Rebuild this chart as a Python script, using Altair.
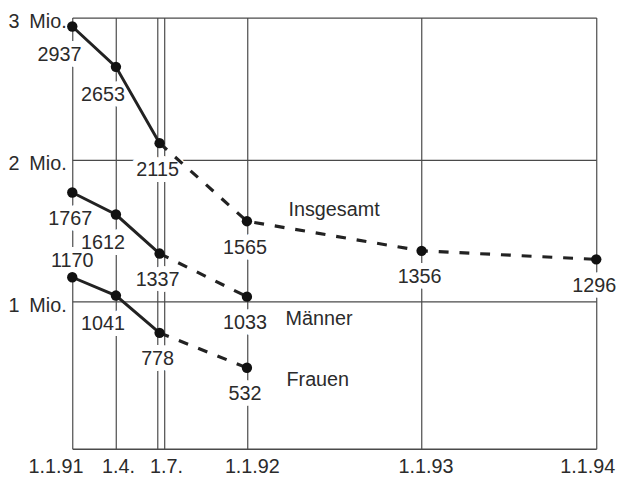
import altair as alt
import pandas as pd

# ---- data ----
months = [0, 3, 6, 12, 24, 36]              # months since 1.1.91
insgesamt = [2937, 2653, 2115, 1565, 1356, 1296]
maenner = [1767, 1612, 1337, 1033]
frauen = [1170, 1041, 778, 532]
series_names = ["Insgesamt", "Männer", "Frauen"]

# label placement category per point (below / below-left / above)
ins_side = ["bl", "bl", "b", "b", "b", "b"]
maen_side = ["b", "bl", "b", "b"]
frau_side = ["a", "bl", "b", "b"]

# axis ticks
grid_months = [0, 3, 5.85, 6.3, 12, 24, 36]
x_label_at = [0, 3, 6.3, 12, 24, 36]
x_labels = ["1.1.91", "1.4.", "1.7.", "1.1.92", "1.1.93", "1.1.94"]
y_ticks = [1000, 2000, 3000]

FONT = "Liberation Sans"
FS = 20
INK = "#2b2b2b"
GRID = "#4a4a4a"

rows = []
for name, vals, sides in zip(series_names, [insgesamt, maenner, frauen],
                             [ins_side, maen_side, frau_side]):
    for m, v, s in zip(months, vals, sides):
        rows.append(dict(series=name, month=m, value=v, side=s, label=str(v)))
df = pd.DataFrame(rows)

label_expr = ""
for v, t in zip(x_label_at, x_labels):
    label_expr += f"datum.value == {v} ? '{t}' : "
label_expr += "''"

# small per-label nudges of the x tick labels (style)
x_label_nudge = {0: -17, 3: 2, 6.3: 2, 12: 5, 24: 4, 36: -9}
label_offset = {
    "condition": [{"test": f"datum.value == {k}", "value": v} for k, v in x_label_nudge.items()],
    "value": 0,
}

x = alt.X("month:Q", title=None,
          scale=alt.Scale(domain=[0, 36], nice=False, zero=False),
          axis=alt.Axis(values=grid_months, grid=True, gridColor=GRID, gridWidth=1.2,
                        domain=True, domainColor=GRID, domainWidth=1.5, ticks=False,
                        labelExpr=label_expr, labelFont=FONT, labelFontSize=FS,
                        labelColor=INK, labelPadding=8, labelFlush=False,
                        labelOverlap=False, labelOffset=label_offset))
y = alt.Y("value:Q", title=None,
          scale=alt.Scale(domain=[-38, 3000], nice=False, zero=False),
          axis=alt.Axis(values=y_ticks, grid=True, gridColor=GRID, gridWidth=1.2,
                        domain=False, ticks=False, labelAlign="left", labelPadding=65,
                        labelBaseline="middle", labelOffset=4,
                        labelExpr="format(datum.value/1000,'d') + '\u2002Mio.'",
                        labelFont=FONT, labelFontSize=FS, labelColor=INK))

base = alt.Chart(df).encode(x=x, y=y, detail="series:N")

solid = base.transform_filter("datum.month <= 6").mark_line(color="#222", strokeWidth=3)
dashed = base.transform_filter("datum.month >= 6").mark_line(
    color="#222", strokeWidth=3.2, strokeDash=[10, 11])
points = base.mark_circle(size=110, color="#111", opacity=1)

side_offsets = {"b": (-2, 27), "bl": (-13, 29), "a": (0, -16)}
halos, texts = [], []
for side, (dx, dy) in side_offsets.items():
    sub = base.transform_filter(f"datum.side == '{side}'").encode(text="label:N")
    halos.append(sub.mark_text(dx=dx, dy=dy, font=FONT, fontSize=FS, color="white",
                               stroke="white", strokeWidth=12, strokeJoin="round",
                               baseline="middle"))
    texts.append(sub.mark_text(dx=dx, dy=dy, font=FONT, fontSize=FS, color=INK,
                               baseline="middle"))

series_offsets = {"Insgesamt": (42, -11), "Männer": (39, 23), "Frauen": (40, 12)}
for name, (dx, dy) in series_offsets.items():
    texts.append(base.transform_filter(f"datum.series == '{name}' && datum.month == 12")
                 .encode(text="series:N")
                 .mark_text(align="left", baseline="middle", dx=dx, dy=dy,
                            font=FONT, fontSize=FS, color=INK))

chart = alt.layer(*halos, solid, dashed, points, *texts).properties(
    width=530, height=436,
    padding={"left": 65, "top": 7, "right": 22, "bottom": 28},
    autosize=alt.AutoSizeParams(type="none"),
    background="white",
).configure_view(stroke=None)

chart.save("out.html", embed_options={"renderer": "svg", "actions": False})
